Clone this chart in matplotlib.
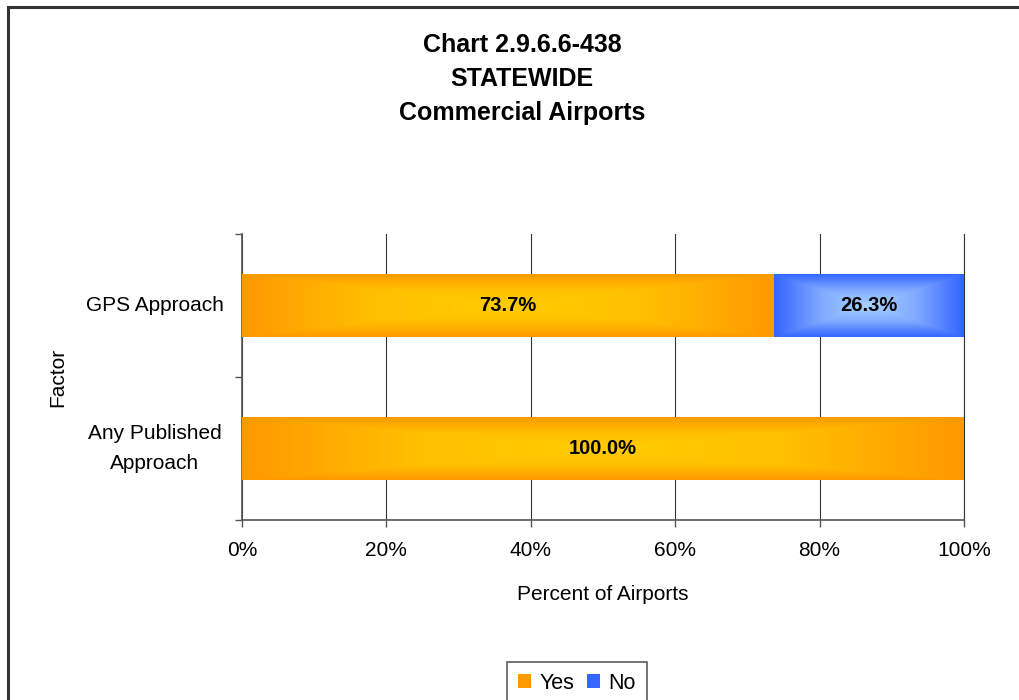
import numpy as np
import matplotlib
matplotlib.use("Agg")
import matplotlib.pyplot as plt
from matplotlib.colors import LinearSegmentedColormap
from matplotlib.patches import Rectangle

plt.rcParams['font.family'] = ['Liberation Sans', 'DejaVu Sans']

categories = ['Any Published\nApproach', 'GPS Approach']
yes_pct = [100.0, 73.7]
no_pct = [0.0, 26.3]
xticks = [0, 20, 40, 60, 80, 100]

fig = plt.figure(figsize=(10.2, 7.0), dpi=100)

# outer chart frame (runs off the right and bottom edges)
fig.patches.append(Rectangle((8 / 1020, -0.05), 1.1, 1 - 7 / 700 + 0.05,
                             transform=fig.transFigure, fill=False,
                             edgecolor='#333333', linewidth=2.2))

ax = fig.add_axes([242 / 1020, 1 - 520 / 700, 722 / 1020, 286 / 700])

y = np.arange(len(categories))
h = 0.44
bars_yes = ax.barh(y, yes_pct, height=h, color='#FF9900', zorder=2)
bars_no = ax.barh(y, no_pct, left=yes_pct, height=h, color='#3366FF', zorder=2)

# rectangular "from centre" gradient fill
n = 200
gx, gy = np.meshgrid(np.linspace(-1, 1, n), np.linspace(-1, 1, n))
grad = np.maximum(np.abs(gx), np.abs(gy))
cmap_yes = LinearSegmentedColormap.from_list('yes', ['#FFCC00', '#FFC000', '#FF9900'])
cmap_no = LinearSegmentedColormap.from_list('no', ['#A8D0FF', '#80AAFF', '#3366FF'])

for bars, cmap in ((bars_yes, cmap_yes), (bars_no, cmap_no)):
    for b in bars:
        if b.get_width() <= 0:
            continue
        x0, y0 = b.get_x(), b.get_y()
        im = ax.imshow(grad, cmap=cmap, extent=(x0, x0 + b.get_width(), y0, y0 + b.get_height()),
                       aspect='auto', zorder=3, interpolation='bilinear')
        im.set_clip_path(b)

for i in range(len(categories)):
    if yes_pct[i] > 0:
        ax.text(yes_pct[i] / 2, y[i], f'{yes_pct[i]:.1f}%', ha='center', va='center',
                fontsize=14.5, fontweight='bold', zorder=4)
    if no_pct[i] > 0:
        ax.text(yes_pct[i] + no_pct[i] / 2, y[i], f'{no_pct[i]:.1f}%', ha='center', va='center',
                fontsize=14.5, fontweight='bold', zorder=4)

ax.set_xlim(0, 100)
ax.set_ylim(-0.5, 1.5)
ax.set_xticks(xticks)
ax.set_xticklabels([f'{t}%' for t in xticks], fontsize=15)
ax.set_yticks([-0.5, 0.5, 1.5])
ax.set_yticklabels([])
ax.set_yticks(y, minor=True)
ax.set_yticklabels(categories, minor=True, fontsize=15, ha='center', va='center')
for lbl in ax.get_yticklabels(minor=True):
    lbl.set_linespacing(1.7)
ax.tick_params(axis='y', which='minor', length=0, pad=63)
ax.tick_params(axis='y', which='major', length=5, width=1, color='#555555')
ax.tick_params(axis='x', length=5, width=1, color='#555555', pad=10)

ax.grid(axis='x', color='#333333', linewidth=0.8, zorder=0)
ax.set_axisbelow(True)
ax.spines['top'].set_visible(False)
ax.spines['right'].set_color('#333333')
ax.spines['right'].set_linewidth(0.8)
ax.spines['left'].set_color('#555555')
ax.spines['bottom'].set_color('#555555')
ax.spines['left'].set_linewidth(1.2)
ax.spines['bottom'].set_linewidth(1.2)

ax.set_xlabel('Percent of Airports', fontsize=15, labelpad=18)
ax.set_ylabel('Factor', fontsize=15, labelpad=13)

fig.text(522 / 1020, 1 - 79 / 700, 'Chart 2.9.6.6-438\nSTATEWIDE\nCommercial Airports',
         ha='center', va='center', fontsize=18, fontweight='bold', linespacing=1.55)

leg = fig.legend([bars_yes[0], bars_no[0]], ['Yes', 'No'], loc='upper center',
                 bbox_to_anchor=(577 / 1020, 1 - 662 / 700), ncol=2, fontsize=15.5,
                 frameon=True, fancybox=False, edgecolor='#333333',
                 handlelength=0.6, handleheight=0.6, handletextpad=0.4, columnspacing=0.6,
                 borderpad=0.5, borderaxespad=0)
leg.get_frame().set_linewidth(1.2)

fig.savefig('out.png', dpi=100)
